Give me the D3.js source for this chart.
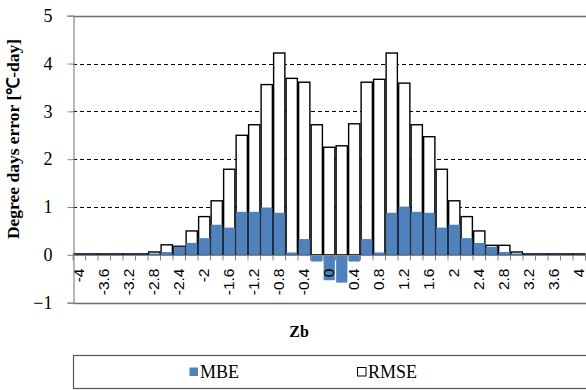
<!DOCTYPE html>
<html>
<head>
<meta charset="utf-8">
<script src="https://cdn.jsdelivr.net/npm/d3@7"></script>
<style>
  body { margin: 0; background: #fff; }
  svg { display: block; }
</style>
</head>
<body>
<script>
// Zb categories (x axis)
const zb = ['-4', '-3.8', '-3.6', '-3.4', '-3.2', '-3', '-2.8', '-2.6', '-2.4', '-2.2',
    '-2', '-1.8', '-1.6', '-1.4', '-1.2', '-1', '-0.8', '-0.6', '-0.4', '-0.2',
    '0', '0.2', '0.4', '0.6', '0.8', '1', '1.2', '1.4', '1.6', '1.8',
    '2', '2.2', '2.4', '2.6', '2.8', '3', '3.2', '3.4', '3.6', '3.8', '4'];

// MBE values (degree days)
const mbe = [0.01, 0.01, 0.01, 0.01, 0.01, 0.01, 0.03, 0.06, 0.17, 0.25,
    0.35, 0.63, 0.57, 0.90, 0.90, 0.99, 0.88, 0.05, 0.33, -0.14,
    -0.53, -0.58, -0.14, 0.33, 0.05, 0.88, 1.01, 0.90, 0.88, 0.57,
    0.63, 0.35, 0.25, 0.17, 0.06, 0.03, 0.01, 0.01, 0.01, 0.01, 0.01];

// RMSE values (degree days)
const rmse = [0.02, 0.02, 0.02, 0.02, 0.02, 0.02, 0.06, 0.21, 0.18, 0.50,
    0.80, 1.13, 1.79, 2.50, 2.72, 3.56, 4.22, 3.69, 3.61, 2.72,
    2.25, 2.28, 2.74, 3.61, 3.67, 4.22, 3.59, 2.72, 2.47, 1.79,
    1.13, 0.80, 0.50, 0.20, 0.20, 0.06, 0.02, 0.02, 0.02, 0.02, 0.02];

// y tick values and labelled x categories
const yTicks = [-1, 0, 1, 2, 3, 4, 5];
const xLabels = zb.filter((d, i) => i % 2 === 0);

const width = 586;
const height = 390;
const plot = { left: 73, right: 585.5, top: 15.7, bottom: 302.7 };

const serif = "'Liberation Serif', 'Times New Roman', serif";
const sans = "'Liberation Sans', Arial, sans-serif";

const svg = d3.select('body').append('svg')
    .attr('width', width)
    .attr('height', height);

const x = d3.scaleBand()
    .domain(zb)
    .range([plot.left, plot.right])
    .paddingInner(0.1)
    .paddingOuter(0.05);

const y = d3.scaleLinear()
    .domain([-1, 5])
    .range([plot.bottom, plot.top]);

// dashed gridlines
svg.append('g')
    .selectAll('line')
    .data([1, 2, 3, 4])
    .join('line')
    .attr('x1', plot.left)
    .attr('x2', width)
    .attr('y1', (d) => Math.round(y(d)) + 0.5)
    .attr('y2', (d) => Math.round(y(d)) + 0.5)
    .attr('stroke', '#000')
    .attr('stroke-width', 1)
    .attr('stroke-dasharray', '4,3');

// frame lines at top and bottom of the plot
svg.append('g')
    .selectAll('line')
    .data([5, -1])
    .join('line')
    .attr('x1', plot.left)
    .attr('x2', width)
    .attr('y1', (d) => Math.round(y(d)) + 0.5)
    .attr('y2', (d) => Math.round(y(d)) + 0.5)
    .attr('stroke', '#6e6e6e')
    .attr('stroke-width', 1.3);

// RMSE bars (white, black outline)
svg.append('g')
    .selectAll('rect')
    .data(zb)
    .join('rect')
    .attr('x', (d) => x(d))
    .attr('width', x.bandwidth())
    .attr('y', (d, i) => y(rmse[i]))
    .attr('height', (d, i) => y(0) - y(rmse[i]))
    .attr('fill', '#fff')
    .attr('stroke', '#000')
    .attr('stroke-width', 1.4);

// MBE bars (blue)
svg.append('g')
    .selectAll('rect')
    .data(zb)
    .join('rect')
    .attr('x', (d) => x(d))
    .attr('width', x.bandwidth())
    .attr('y', (d, i) => y(Math.max(0, mbe[i])))
    .attr('height', (d, i) => Math.abs(y(mbe[i]) - y(0)))
    .attr('fill', '#4f81bd');

// x axis at zero with tick marks between categories
const x0 = Math.round(y(0)) + 0.5;
svg.append('line')
    .attr('x1', plot.left)
    .attr('x2', width)
    .attr('y1', x0)
    .attr('y2', x0)
    .attr('stroke', '#868686')
    .attr('stroke-width', 1.2);

const step = x.step();
const edges = zb.map((d) => x(d) - (step - x.bandwidth()) / 2).concat([plot.right]);
svg.append('g')
    .selectAll('line')
    .data(edges)
    .join('line')
    .attr('x1', (d) => d)
    .attr('x2', (d) => d)
    .attr('y1', x0)
    .attr('y2', x0 + 5)
    .attr('stroke', '#868686');

svg.append('g')
    .selectAll('text')
    .data(xLabels)
    .join('text')
    .style('font-family', sans)
    .style('font-size', '15.5px')
    .attr('transform', (d) => `translate(${x(d) + x.bandwidth() / 2 + 4.5},${x0 + 13}) rotate(-90)`)
    .attr('text-anchor', 'end')
    .attr('fill', '#000')
    .text((d) => d);

// y axis
const yAxis = d3.axisLeft(y)
    .tickValues(yTicks)
    .tickSize(6)
    .tickPadding(15)
    .tickFormat(d3.format('d'));

const gy = svg.append('g')
    .attr('transform', `translate(${plot.left + 0.5},0)`)
    .call(yAxis);
gy.select('.domain').attr('stroke', '#868686').attr('stroke-width', 1.2);
gy.selectAll('.tick line').attr('stroke', '#868686');
gy.selectAll('.tick text')
    .style('font-family', serif)
    .style('font-size', '18px')
    .attr('fill', '#000');

// axis titles
svg.append('text')
    .style('font-family', serif)
    .style('font-weight', 'bold')
    .style('font-size', '17.5px')
    .attr('transform', 'translate(19,139) rotate(-90)')
    .attr('text-anchor', 'middle')
    .text('Degree days error [℃-day]');

svg.append('text')
    .style('font-family', serif)
    .style('font-weight', 'bold')
    .style('font-size', '16px')
    .attr('x', 299)
    .attr('y', 337)
    .attr('text-anchor', 'middle')
    .text('Zb');

// legend
const legend = svg.append('g');
legend.append('rect')
    .attr('x', 73.5)
    .attr('y', 355.5)
    .attr('width', 530)
    .attr('height', 33)
    .attr('fill', '#fff')
    .attr('stroke', '#555')
    .attr('stroke-width', 1.2);

const items = [
    { name: 'MBE', fill: '#4f81bd', stroke: 'none', x: 189 },
    { name: 'RMSE', fill: '#fff', stroke: '#000', x: 357 },
];
items.forEach((it) => {
    legend.append('rect')
        .attr('x', it.x + 0.5)
        .attr('y', 367.5)
        .attr('width', 8.5)
        .attr('height', 8.5)
        .attr('fill', it.fill)
        .attr('stroke', it.stroke);
    legend.append('text')
        .style('font-family', serif)
        .style('font-size', '18px')
        .attr('x', it.x + 11)
        .attr('y', 378)
        .text(it.name);
});
</script>
</body>
</html>
